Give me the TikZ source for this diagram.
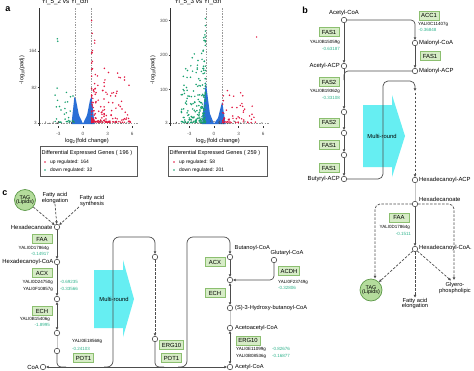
\documentclass[tikz,border=0pt]{standalone}
\usepackage{fontspec}
\setmainfont{Liberation Sans}
\usetikzlibrary{arrows.meta}
\newcommand\myfs[1]{\fontsize{#1}{#1}\selectfont}
\definecolor{lc}{HTML}{4D4D4D}
\definecolor{enzfill}{HTML}{D6ECC6}
\definecolor{enzdraw}{HTML}{8CBF70}
\definecolor{valc}{HTML}{2FB38C}
\definecolor{vred}{HTML}{E3163F}
\definecolor{vgreen}{HTML}{17A06E}
\definecolor{vblue}{HTML}{2A6FD6}
\definecolor{cyanA}{HTML}{66EEF2}
\definecolor{tagfill}{HTML}{B4DC9C}
\definecolor{tagdraw}{HTML}{5E9A4A}
\begin{document}
\begin{tikzpicture}[x=1pt,y=-1pt,
  myln/.style={draw=lc,line width=0.7pt},
  mydln/.style={myln,dash pattern=on 2.5pt off 1.5pt},
  myarr/.style={-{Triangle[length=2.6pt,width=2.4pt]}},
  mydarr/.style={{Triangle[length=2.6pt,width=2.4pt]}-{Triangle[length=2.6pt,width=2.4pt]}},
  met/.style={circle,draw=lc,fill=white,line width=0.6pt,inner sep=0pt,minimum size=5.5pt},
  mlab/.style={font=\myfs{5.9},inner sep=0.5pt},
  enz/.style={draw=enzdraw,fill=enzfill,line width=0.6pt,font=\myfs{5.9},inner xsep=2.2pt,inner ysep=0pt,minimum height=8.6pt,minimum width=20pt},
  gid/.style={font=\myfs{4.5},inner sep=0pt},
  gval/.style={gid,text=valc},
  tick/.style={font=\myfs{4.6},text=gray!60!black,inner sep=0.5pt},
  vdash/.style={gray!80,line width=0.45pt,dash pattern=on 1.5pt off 1.2pt},
  tagc/.style={circle,draw=tagdraw,fill=tagfill,line width=0.7pt,minimum size=22pt,inner sep=0pt,font=\myfs{5.4},align=center},
  plab/.style={font=\bfseries\myfs{9},inner sep=0pt}
]
\fill[white] (0,0) rectangle (474,370);
\useasboundingbox (0,0) rectangle (474,370);

%================ PANEL A =================
\node[plab] (pa) at (8,9) {a};
% ---- left volcano
\node[font=\myfs{6.3},inner sep=0] (t1) at (65,2.2) {Yl\_5\_2 vs Yl\_ctrl};
\draw[vdash] (75,8) -- (75,123);
\draw[vdash] (91,8) -- (91,123);
\draw[vdash] (39,123) -- (138,123);
\fill[vblue] (71.5,124) -- (74.4,96.7) -- (76,100) -- (78.9,115) -- (83,123.6) -- (87.1,115) -- (90,100) -- (91.6,96.7) -- (94.5,124) -- cycle;
\pgfmathsetseed{11}
\foreach \i in {1,...,30}{%
  \pgfmathsetmacro\uu{rnd}\pgfmathsetmacro\ww{rnd}%
  \fill[gray!60!black] ({83+8.2*(-5+11*\uu)},{123.5-2.5*\ww}) circle[radius=0.6pt];}
\foreach \i in {1,...,164}{%
  \pgfmathsetmacro\uu{rnd}\pgfmathsetmacro\ww{rnd}%
  \fill[vred] ({83+8.2*(1.05+4.8*\uu*\uu)},{124-0.44*(4+235*\ww*\ww*\ww*(1-0.6*\uu))}) circle[radius=0.85pt];}
\foreach \i in {1,...,32}{%
  \pgfmathsetmacro\uu{rnd}\pgfmathsetmacro\ww{rnd}%
  \fill[vgreen] ({83+8.2*(-1.08-2.6*\uu*sqrt(\uu))},{124-0.44*(4+190*\ww*\ww*\ww)}) circle[radius=0.85pt];}
\draw[gray!40!black,line width=0.5pt] (39,8) -- (39,126);
\foreach \t/\yy in {164/51.2,82/87.5,3/122.7}{%
  \draw[gray!40!black,line width=0.4pt] (37.6,\yy) -- (39,\yy);
  \node[tick,anchor=east] (ly\t) at (37.4,\yy) {\t};}
\foreach \t/\xx in {-3/58.4,0/83,3/107.6,6/132.2}{%
  \draw[gray!40!black,line width=0.4pt] (\xx,126) -- (\xx,127.5);
  \node[tick] (lx\t) at (\xx,133.5) {\t};}
\node[font=\myfs{5.5},rotate=90] (ylab1) at (22,70) {-log\textsubscript{10}(padj)};
\node[font=\myfs{5.7}] (xlab1) at (87,141) {log\textsubscript{2}(fold change)};
\node[draw=gray!70!black,line width=0.5pt,minimum width=97pt,minimum height=30pt,anchor=north west,inner sep=0] (leg1) at (40,146) {};
\node[anchor=west,font=\myfs{5.6},inner sep=0] (leg1t) at (41.5,153) {Differential Expressed Genes ( 196 )};
\fill[vred] (45,162) circle[radius=0.85pt];
\node[anchor=west,font=\myfs{4.9},inner sep=0] (leg1u) at (50,162) {up regulated: 164};
\fill[vgreen] (45,170) circle[radius=0.85pt];
\node[anchor=west,font=\myfs{4.9},inner sep=0] (leg1d) at (50,170) {down regulated: 32};

% ---- right volcano
\node[font=\myfs{6.3},inner sep=0] (t2) at (198,2.2) {Yl\_5\_3 vs Yl\_ctrl};
\draw[vdash] (206,8) -- (206,123);
\draw[vdash] (222,8) -- (222,123);
\draw[vdash] (170,123) -- (269,123);
\fill[vblue] (202.1,124) -- (205.8,81.9) -- (207.5,95) -- (209.9,113.6) -- (214,123.7) -- (218.1,117.8) -- (221,106) -- (222.2,101.9) -- (225.5,124) -- cycle;
\foreach \i in {1,...,30}{%
  \pgfmathsetmacro\uu{rnd}\pgfmathsetmacro\ww{rnd}%
  \fill[gray!60!black] ({214+8.2*(-5+11*\uu)},{123.5-2.5*\ww}) circle[radius=0.6pt];}
\foreach \i in {1,...,58}{%
  \pgfmathsetmacro\uu{rnd}\pgfmathsetmacro\ww{rnd}%
  \fill[vred] ({214+8.2*(1.05+4.2*\uu*\uu)},{124-0.345*(4+95*\ww*\ww*\ww)}) circle[radius=0.85pt];}
\fill[vred] (256.6,37) circle[radius=0.85pt];
\foreach \i in {1,...,201}{%
  \pgfmathsetmacro\uu{rnd}\pgfmathsetmacro\ww{rnd}%
  \fill[vgreen] ({214+8.2*(-1.05-3*\uu*\uu)},{124-0.345*(4+320*\ww*\ww*(1-0.55*\uu))}) circle[radius=0.85pt];}
\draw[gray!40!black,line width=0.5pt] (170,8) -- (170,126);
\foreach \t/\yy in {300/20.5,200/55,100/89.5,3/122.7}{%
  \draw[gray!40!black,line width=0.4pt] (168.6,\yy) -- (170,\yy);
  \node[tick,anchor=east] (ry\t) at (168.4,\yy) {\t};}
\foreach \t/\xx in {-3/189.4,0/214,3/238.6,6/263.2}{%
  \draw[gray!40!black,line width=0.4pt] (\xx,126) -- (\xx,127.5);
  \node[tick] (rx\t) at (\xx,133.5) {\t};}
\node[font=\myfs{5.5},rotate=90] (ylab2) at (153,70) {-log\textsubscript{10}(padj)};
\node[font=\myfs{5.7}] (xlab2) at (218,141) {log\textsubscript{2}(fold change)};
\node[draw=gray!70!black,line width=0.5pt,minimum width=99pt,minimum height=30pt,anchor=north west,inner sep=0] (leg2) at (168,146) {};
\node[anchor=west,font=\myfs{5.6},inner sep=0] (leg2t) at (169.5,153) {Differential Expressed Genes ( 259 )};
\fill[vred] (174,162) circle[radius=0.85pt];
\node[anchor=west,font=\myfs{4.9},inner sep=0] (leg2u) at (179,162) {up regulated: 58};
\fill[vgreen] (174,170) circle[radius=0.85pt];
\node[anchor=west,font=\myfs{4.9},inner sep=0] (leg2d) at (179,170) {down regulated: 201};

%================ PANEL B =================
\node[plab] (pb) at (305,10) {b};
\fill[cyanA] (363,105) -- (392,105) -- (392,95) -- (405,136) -- (392,177) -- (392,167) -- (363,167) -- cycle;
\node[font=\myfs{5.8},inner sep=0] (mrb) at (382,136) {Multi-round};

\node[met] (bAcCoA) at (344,20) {};
\node[mlab,anchor=south] (lbAcCoA) at (344,16.5) {Acetyl-CoA};
\node[met] (bAcACP) at (344,66) {};
\node[mlab,anchor=east] (lbAcACP) at (340.5,66) {Acetyl-ACP};
\node[met] (bMalCoA) at (415,43) {};
\node[mlab,anchor=west] (lbMalCoA) at (418.5,43) {Malonyl-CoA};
\node[met] (bMalACP) at (415,71) {};
\node[mlab,anchor=west] (lbMalACP) at (418.5,71) {Malonyl-ACP};
\node[met] (bc1) at (344,112) {};
\node[met] (bc2) at (344,133) {};
\node[met] (bc3) at (344,155) {};
\node[met] (bBut) at (344,179) {};
\node[mlab,anchor=east] (lbBut) at (340.5,179) {Butyryl-ACP};
\node[met] (bHexACP) at (415,180) {};
\node[mlab,anchor=west] (lbHexACP) at (418.5,180) {Hexadecanoyl-ACP};
\node[met] (bHexa) at (415,204) {};
\node[mlab,anchor=west] (lbHexa) at (418.5,199) {Hexadecanoate};
\node[met] (bHexCoA) at (415,249) {};
\node[mlab,anchor=west] (lbHexCoA) at (418.5,248) {Hexadecanoyl-CoA.};
\node[tagc] (bTAG) at (371,290) {TAG\\[-1pt](Lipids)};
\node[mlab,align=center,font=\myfs{5.7}] (bElong) at (415,303.5) {Fatty acid\\[-0.5pt]elongation};
\node[mlab,align=center,font=\myfs{5.7}] (bGly) at (455,288) {Glyero-\\[-0.5pt]phospholipic};

\node[enz] (eACC1) at (429,15.5) {ACC1};
\node[gid,anchor=west] (gACC1) at (418,24) {YALI0C11407g};
\node[gval,anchor=west] (vACC1) at (418.5,30) {-0.36848};
\node[enz] (eFAS1r) at (430,56) {FAS1};
\node[enz] (eFAS1a) at (329,32) {FAS1};
\node[gid,anchor=east] (gFAS1a) at (340,42.5) {YALI0B15059g};
\node[gval,anchor=east] (vFAS1a) at (340,49) {-0.63187};
\node[enz] (eFAS2a) at (329,82) {FAS2};
\node[gid,anchor=east] (gFAS2a) at (340,91) {YALI0B19362g};
\node[gval,anchor=east] (vFAS2a) at (340,97.5) {-0.33108};
\node[enz] (eFAS2b) at (329,122.5) {FAS2};
\node[enz] (eFAS1b) at (329,145) {FAS1};
\node[enz] (eFAS1c) at (329,168) {FAS1};
\node[enz] (eFAAb) at (399,217.5) {FAA};
\node[gid,anchor=east] (gFAAb) at (410,227) {YALI0D17864g};
\node[gval,anchor=east] (vFAAb) at (411,234) {-0.1511};

\draw[myln,myarr,rounded corners=4] (bAcCoA.east) -| (bMalCoA.north);
\draw[myln,myarr] (bMalCoA) -- (bMalACP);
\draw[myln,myarr] (bAcCoA) -- (bAcACP);
\draw[myln,rounded corners=4] (bMalACP.west) -| (344,80);
\draw[myln,myarr] (bAcACP) -- (bc1);
\draw[myln,myarr] (bc1) -- (bc2);
\draw[myln,myarr] (bc2) -- (bc3);
\draw[myln,myarr] (bc3) -- (bBut);
\coordinate (bLoopEnd) at (415,91);
\draw[myln,myarr,rounded corners=5] (bBut.east) -| (383,81) -| (bLoopEnd);
\draw[mydln,myarr] (415,92.5) -- (bHexACP.north);
\draw[gray!45,line width=0.6pt] (bHexACP) -- (bHexa);
\draw[myln,myarr] (bHexa) -- (bHexCoA);
\coordinate (bTagTop) at (375,278.5);
\coordinate (bGlyTop) at (454,280);
\draw[mydln,myarr,rounded corners=5] (bHexa.west) -| (bTagTop);
\draw[mydln,myarr,rounded corners=5] (bHexa.east) -| (bGlyTop);
\draw[mydln,myarr] (bHexCoA) -- (bTAG.north east);
\draw[mydln,myarr] (bHexCoA) -- (bElong.north);
\draw[mydln,myarr] (bHexCoA) -- (451,280.5);

%================ PANEL C =================
\node[plab] (pc) at (5,193) {c};
\fill[cyanA] (94,270) -- (123,270) -- (123,260) -- (134,299) -- (123,337) -- (123,328) -- (94,328) -- cycle;
\node[font=\myfs{5.8},inner sep=0] (mrc) at (114,299) {Multi-round};

\node[tagc,minimum size=21pt] (cTAG) at (25,200) {TAG\\[-1pt](Lipids)};
\node[mlab,align=center,font=\myfs{5.7}] (cElong) at (55,198) {Fatty acid\\[-0.5pt]elongation};
\node[mlab,align=center,font=\myfs{5.7}] (cSynth) at (92,201) {Fatty acid\\[-0.5pt]synthesis};
\node[met] (cHexa) at (57,227) {};
\node[mlab,anchor=east] (lcHexa) at (53,227) {Hexadecanoate};
\node[met] (cHexCoA) at (57,262) {};
\node[mlab,anchor=east] (lcHexCoA) at (54,262) {Hexadecanoyl-CoA};
\node[met] (cc1) at (57,299) {};
\node[met] (cc2) at (57,333) {};
\node[met] (cc3) at (57,351) {};
\node[met] (cCoA) at (43,367) {};
\node[mlab,anchor=east] (lcCoA) at (39.5,367) {CoA};
\node[met] (cc4) at (155,257) {};
\node[met] (cc5) at (155,339) {};
\node[met] (cBut) at (230,257) {};
\node[mlab,anchor=west,font=\myfs{5.7}] (lcBut) at (234,248) {Butanoyl-CoA};
\node[met] (cGlu) at (274,260) {};
\node[mlab,anchor=west,font=\myfs{5.7}] (lcGlu) at (270,253) {Glutaryl-CoA};
\node[met] (cJ) at (230,280) {};
\node[met] (cS3) at (230,308) {};
\node[mlab,anchor=west,font=\myfs{5.7}] (lcS3) at (234.5,308) {(S)-3-Hydroxy-butanoyl-CoA};
\node[met] (cAcac) at (230,328) {};
\node[mlab,anchor=west,font=\myfs{5.7}] (lcAcac) at (234.5,328) {Acetoacetyl-CoA};
\node[met] (cAcCoA) at (230,367) {};
\node[mlab,anchor=west,font=\myfs{5.7}] (lcAcCoA) at (234.5,367) {Acetyl-CoA};

\node[enz] (eFAAc) at (42,239) {FAA};
\node[gid,anchor=east] (gFAAc) at (49,248) {YALI0D17864g};
\node[gval,anchor=east] (vFAAc) at (49,254) {-0.14917};
\node[enz] (eACXc) at (42,273) {ACX};
\node[gid,anchor=east] (gACX1) at (53,282) {YALI0D24750g};
\node[gval,anchor=west] (vACX1) at (60,282) {-0.69235};
\node[gid,anchor=east] (gACX2) at (53,289) {YALI0F10857g};
\node[gval,anchor=west] (vACX2) at (60,289) {-0.33566};
\node[enz] (eECHc) at (42,311) {ECH};
\node[gid,anchor=east] (gECH) at (50,319) {YALI0B15406g};
\node[gval,anchor=east] (vECH) at (50,325) {-1.8995};
\node[gid,anchor=west] (gPOT) at (72,341) {YALI0E18568g};
\node[gval,anchor=west] (vPOT) at (72,349) {-0.24103};
\node[enz] (ePOTa) at (83.5,358) {POT1};
\node[enz] (eERGb) at (171.5,345) {ERG10};
\node[enz] (ePOTb) at (171.5,358) {POT1};
\node[enz] (eACX2) at (215,262) {ACX};
\node[enz] (eECH2) at (215,293) {ECH};
\node[enz] (eACDH) at (289,271) {ACDH};
\node[gid,anchor=west] (gACDH) at (278,282) {YALI0F23749g};
\node[gval,anchor=west] (vACDH) at (278,288) {-0.32806};
\node[enz] (eERG10) at (248,340.5) {ERG10};
\node[gid,anchor=west] (gERG1) at (236,349) {YALI0E11099g};
\node[gval,anchor=west] (vERG1) at (272,349) {-0.82676};
\node[gid,anchor=west] (gERG2) at (236,356) {YALI0B08536g};
\node[gval,anchor=west] (vERG2) at (272,356) {-0.16877};

\draw[mydln,myarr] (cTAG) -- (cHexa);
\draw[mydln,myarr] (cElong.south) -- (cHexa);
\draw[mydln,myarr] (cSynth.south west) -- (cHexa);
\draw[myln,myarr] (cHexa) -- (cHexCoA);
\draw[myln,myarr] (cHexCoA) -- (cc1);
\draw[myln,mydarr] (cc1) -- (cc2);
\draw[gray!45,line width=0.6pt] (cc2) -- (cc3);
\draw[myln,mydarr] (cCoA.east) -- (cAcCoA.west);
\draw[myln,rounded corners=4] (cc3.south) |- (66,367);
\draw[myln,myarr,rounded corners=6] (104,367) -| (113,237) -| (cc4.north);
\draw[mydln,myarr] (cc4) -- (cc5);
\draw[myln,rounded corners=4] (cc5.south) |- (164,367);
\draw[myln,myarr,rounded corners=6] (178,367) -| (187,237) -| (cBut.north);
\draw[myln,myarr] (cBut) -- (cJ);
\draw[myln,myarr,rounded corners=4] (cGlu.south) |- (cJ.east);
\draw[myln,mydarr] (cJ) -- (cS3);
\draw[gray!45,line width=0.6pt] (cS3) -- (cAcac);
\draw[myln,mydarr] (cAcac) -- (cAcCoA);
\end{tikzpicture}
\end{document}
